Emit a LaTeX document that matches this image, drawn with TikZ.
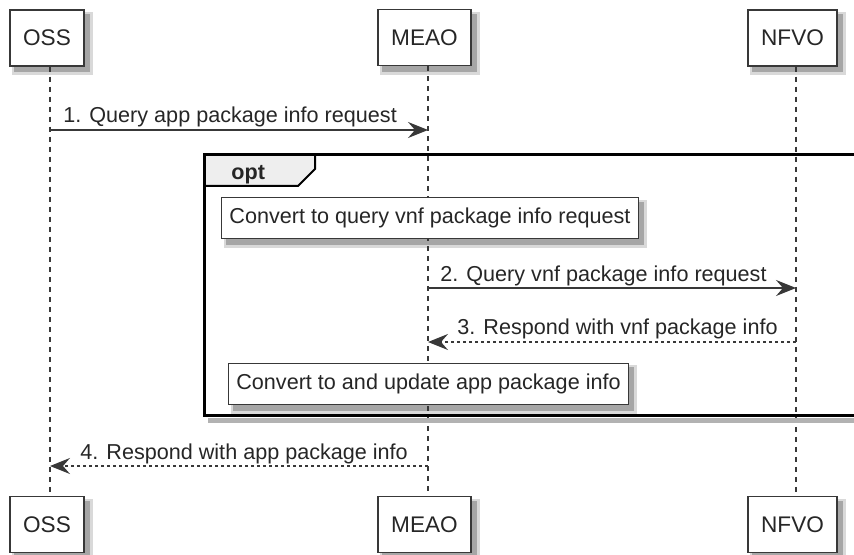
\documentclass[tikz,border=0pt]{standalone}
\usepackage{fontspec}
\setmainfont{Liberation Sans}
\usetikzlibrary{arrows.meta}
\definecolor{umlline}{HTML}{383838}
\definecolor{umltab}{HTML}{EEEEEE}

\begin{document}
\begin{tikzpicture}[x=0.5pt, y=-0.5pt,
    actor/.style={draw=umlline, line width=0.75pt, fill=white, minimum height=28pt, inner sep=0pt,
        font=\fontsize{11.3}{13}\selectfont, text=black!85},
    note/.style={draw=umlline, line width=0.5pt, fill=white, minimum height=20.5pt, inner xsep=4pt,
        font=\fontsize{10.8}{13}\selectfont, text=black!85},
    lifeline/.style={draw=umlline, line width=0.6pt, dash pattern=on 2.5pt off 2.5pt},
    msg/.style={draw=umlline, line width=0.6pt, -{Stealth[length=10pt, width=8pt, inset=3.5pt]}},
    reply/.style={msg, dash pattern=on 1.5pt off 1.5pt},
    lbl/.style={anchor=base west, inner sep=0pt, font=\fontsize{10.8}{13}\selectfont, text=black!85}]
    \path[use as bounding box] (0,0) rectangle (854,555);
    % shadows of boxes and notes
    \foreach \xa/\ya/\xb/\yb in {10/10/84/66, 378/10/471/66, 748/10/837/66,
            10/497/84/552, 378/497/471/552, 748/497/837/552,
            222/198/638/239, 229/363/628/405} {
        \fill[black!15] (\xa+2,\ya+2) rectangle (\xb+9,\yb+9);
        \fill[black!35] (\xa+4,\ya+4) rectangle (\xb+6,\yb+6);
    }
    % participants
    \node[actor, minimum width=37pt] (oss) at (47,38) {OSS};
    \node[actor, minimum width=46.5pt] (meao) at (424.5,37.5) {MEAO};
    \node[actor, minimum width=44.5pt] (nfvo) at (792.5,38) {NFVO};
    \node[actor, minimum width=37pt] (ossb) at (47,524.5) {OSS};
    \node[actor, minimum width=46.5pt] (meaob) at (424.5,524.5) {MEAO};
    \node[actor, minimum width=44.5pt] (nfvob) at (792.5,524.5) {NFVO};
    \draw[lifeline] ([xshift=1.5pt]oss.south) -- ([xshift=1.5pt]ossb.north);
    \draw[lifeline] ([xshift=1.75pt]meao.south) -- ([xshift=1.75pt]meaob.north);
    \draw[lifeline] ([xshift=1.75pt]nfvo.south) -- ([xshift=1.75pt]nfvob.north);
    % opt frame
    \draw[black!30, line width=2.5pt] (208,420) -- (870,420);
    \filldraw[fill=umltab, draw=black, line width=1pt] (204,155) -- (315,155) -- (315,169) -- (298,186) -- (204,186) -- cycle;
    \draw[black, line width=1.5pt] (204,155) rectangle (870,415);
    \node[lbl, font=\fontsize{10.8}{13}\selectfont\bfseries] (optlbl) at (231,180) {opt};
    \node[note] (conv1) at (430,218) {Convert to query vnf package info request};
    \node[note] (conv2) at (428.5,384) {Convert to and update app package info};
    % messages
    \coordinate (oss-1) at (50,130);
    \coordinate (meao-1) at (428,130);
    \coordinate (meao-2) at (428,288);
    \coordinate (nfvo-2) at (796,288);
    \coordinate (nfvo-3) at (796,342);
    \coordinate (meao-3) at (428,342);
    \coordinate (meao-4) at (428,466);
    \coordinate (oss-4) at (50,466);
    \draw[msg] (oss-1) -- (meao-1);
    \node[lbl] (m1) at (63,123) {1. Query app package info request};
    \draw[msg] (meao-2) -- (nfvo-2);
    \node[lbl] (m2) at (440,281) {2. Query vnf package info request};
    \draw[reply] (nfvo-3) -- (meao-3);
    \node[lbl] (m3) at (457,334) {3. Respond with vnf package info};
    \draw[reply] (meao-4) -- (oss-4);
    \node[lbl] (m4) at (80,459) {4. Respond with app package info};
\end{tikzpicture}
\end{document}
